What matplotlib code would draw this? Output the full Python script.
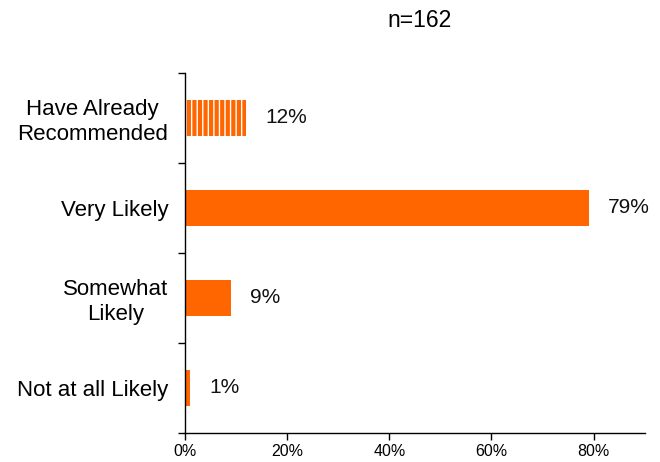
import matplotlib.pyplot as plt
from matplotlib.ticker import FixedLocator, PercentFormatter

plt.rcParams['font.family'] = ['Liberation Sans', 'DejaVu Sans']
plt.rcParams['hatch.linewidth'] = 1.0

categories = ["Have Already\nRecommended", "Very Likely", "Somewhat\nLikely", "Not at all Likely"]
values = [12, 79, 9, 1]
striped = [True, False, False, False]
orange = "#FF6600"

fig = plt.figure(figsize=(6.6, 4.62), dpi=100)
ax = fig.add_axes([0.280, 0.0628, 0.697, 0.7792])

ypos = list(range(len(categories)))
for y, v, s in zip(ypos, values, striped):
    if s:
        ax.barh(y, v, height=0.4, color=orange, edgecolor="white",
                linewidth=0, hatch="|||")
    else:
        ax.barh(y, v, height=0.4, color=orange, linewidth=0)
    ax.annotate(f"{v}%", xy=(v, y), xytext=(14, 0), textcoords="offset points",
                ha="left", va="center", fontsize=15, color="#111111")

ax.set_xlim(0, 90)
ax.set_ylim(len(categories) - 0.5, -0.5)

ax.set_yticks(ypos)
ax.set_yticklabels(categories, fontsize=16, multialignment="center")
ax.yaxis.set_minor_locator(FixedLocator([-0.5, 0.5, 1.5, 2.5, 3.5]))
ax.tick_params(axis="y", which="major", length=0, pad=12)
ax.tick_params(axis="y", which="minor", length=5, width=1, direction="out")

ax.set_xticks([0, 20, 40, 60, 80])
ax.xaxis.set_major_formatter(PercentFormatter(decimals=0))
ax.tick_params(axis="x", length=5, width=1, direction="out", labelsize=11.5, pad=3)

for side in ("top", "right"):
    ax.spines[side].set_visible(False)
for side in ("left", "bottom"):
    ax.spines[side].set_linewidth(1)

fig.text(0.636, 0.955, "n=162", ha="center", va="center", fontsize=16.5)

fig.savefig("out.png", dpi=100)
